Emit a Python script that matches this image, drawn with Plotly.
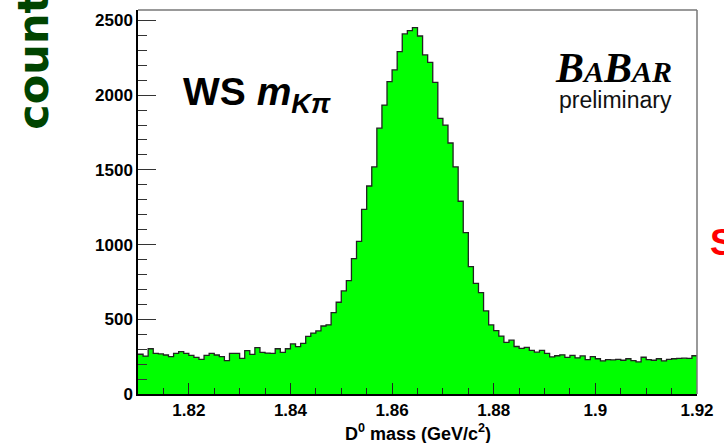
import plotly.graph_objects as go

# D0 -> K pi wrong-sign candidate mass spectrum, 1 MeV bins
bin_lo = 1.81
bin_width = 0.001
counts = [
    266, 254, 303, 272, 268, 261, 250, 272, 283, 272,
    259, 245, 232, 259, 272, 261, 250, 223, 272, 272,
    239, 290, 265, 310, 279, 274, 272, 303, 279, 303,
    335, 317, 339, 386, 408, 422, 455, 463, 544, 614,
    690, 759, 906, 1022, 1236, 1392, 1520, 1779, 1934, 2090,
    2169, 2291, 2410, 2432, 2452, 2396, 2269, 2220, 2085, 1845,
    1800, 1680, 1520, 1290, 1080, 852, 741, 678, 556, 462,
    424, 388, 345, 360, 318, 305, 312, 292, 280, 292,
    272, 248, 256, 262, 245, 258, 242, 255, 230, 250,
    236, 222, 230, 228, 232, 226, 236, 224, 215, 246,
    230, 226, 236, 222, 232, 236, 238, 240, 238, 256,
]

x_tickvals = [1.82, 1.84, 1.86, 1.88, 1.90, 1.92]
x_ticktext = ["1.82", "1.84", "1.86", "1.88", "1.9", "1.92"]
y_tickvals = [0, 500, 1000, 1500, 2000, 2500]
y_ticktext = ["0", "500", "1000", "1500", "2000", "2500"]

edges = [bin_lo + i * bin_width for i in range(len(counts) + 1)]
step_y = counts + [counts[-1]]

W, H = 724, 443
L, R, T, B = 138, 18, 10, 49
plot_h = H - T - B
plot_w = W - L - R


def py(pix):
    # pixel row -> paper y
    return (H - B - pix) / plot_h


def px(pix):
    # pixel column -> paper x
    return (pix - L) / plot_w


fig = go.Figure()
fig.add_trace(go.Scatter(
    x=edges, y=step_y, mode="lines",
    line=dict(shape="hv", color="#222222", width=1.3),
    fill="tozeroy", fillcolor="#00ff00",
    hoverinfo="skip", showlegend=False,
))

axis_font = dict(family="Liberation Sans, Arial, sans-serif", size=17, color="black", weight=700)

fig.update_layout(
    width=W, height=H,
    margin=dict(l=L, r=R, t=T, b=B, pad=0),
    paper_bgcolor="white", plot_bgcolor="white",
    xaxis=dict(
        range=[1.81, 1.92], showgrid=False, zeroline=False,
        tickmode="array", tickvals=x_tickvals, ticktext=x_ticktext,
        ticks="inside", ticklen=11, tickwidth=1.2, tickcolor="#222",
        minor=dict(dtick=0.005, tick0=1.81, ticks="inside", ticklen=6,
                   tickwidth=1.2, tickcolor="#222", showgrid=False),
        showline=True, linecolor="black", linewidth=1.5,
        tickfont=axis_font,
    ),
    yaxis=dict(
        range=[0, 2570], showgrid=False, zeroline=False,
        tickmode="array", tickvals=y_tickvals, ticktext=y_ticktext,
        ticks="inside", ticklen=18, tickwidth=1.2, tickcolor="#333",
        minor=dict(dtick=100, tick0=0, ticks="inside", ticklen=9,
                   tickwidth=1.2, tickcolor="#333", showgrid=False),
        showline=True, linecolor="black", linewidth=1.5,
        tickfont=axis_font,
    ),
    shapes=[
        dict(type="line", xref="paper", yref="paper", x0=0, x1=1, y0=1, y1=1,
             line=dict(color="#777", width=1.5)),
        dict(type="line", xref="paper", yref="paper", x0=1, x1=1, y0=0, y1=1,
             line=dict(color="#777", width=1.5)),
    ],
)

annotations = [
    # x-axis title
    dict(text="<b>D<sup>0</sup> mass (GeV/c<sup>2</sup>)</b>",
         x=px(423), y=py(432), xanchor="center", yanchor="middle",
         font=dict(family="Liberation Sans, Arial, sans-serif", size=18, color="black")),
    # channel label
    dict(text="<b>WS <i>m</i><sub><i>Kπ</i></sub></b>",
         x=px(182), y=py(94), xanchor="left", yanchor="middle",
         font=dict(family="Liberation Sans, Arial, sans-serif", size=39, color="black")),
    # experiment logo
    dict(text="<b><i>B<span style='font-size:30px'>A</span>B<span style='font-size:30px'>AR</span></i></b>",
         x=px(621), y=py(68), xanchor="center", yanchor="middle",
         font=dict(family="Liberation Serif, Times New Roman, serif", size=42, color="black")),
    dict(text="preliminary",
         x=px(623), y=py(100), xanchor="center", yanchor="middle",
         font=dict(family="Liberation Sans, Arial, sans-serif", size=23, color="#111")),
    # y-axis title (partly outside the canvas)
    dict(text="<b>counts</b>", textangle=-90,
         x=px(31), y=py(132), xanchor="center", yanchor="bottom",
         font=dict(family="DejaVu Sans, Verdana, sans-serif", size=43, color="#004400")),
    # neighbouring panel text at the right edge
    dict(text="<b>S</b>",
         x=px(717), y=py(243), xanchor="left", yanchor="middle",
         font=dict(family="Liberation Sans, Arial, sans-serif", size=36, color="#ff0000")),
]
for a in annotations:
    a.update(xref="paper", yref="paper", showarrow=False)
    fig.add_annotation(**a)

fig.write_html("out.html")
